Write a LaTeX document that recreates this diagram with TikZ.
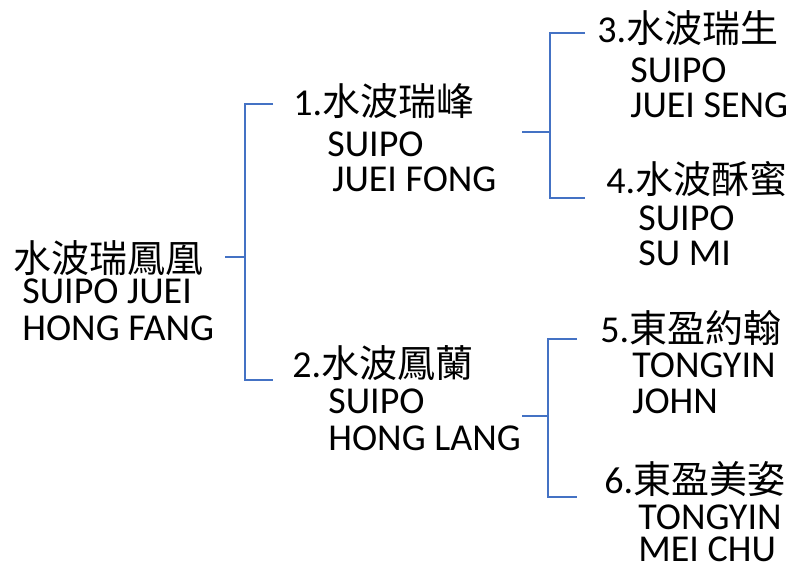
\documentclass[tikz,border=0pt]{standalone}
\usepackage{fontspec}
\setmainfont{Carlito}
\newfontfamily\cjk{Noto Sans CJK TC}
\definecolor{linkblue}{RGB}{68,114,196}
\begin{document}
\begin{tikzpicture}[x=0.5pt,y=-0.5pt,
  link/.style={draw=linkblue,line width=0.75pt},
  txt/.style={anchor=base west,inner sep=0pt,font=\fontsize{19}{22}\selectfont}]
\useasboundingbox (0,0) rectangle (794,563);

% root
\node[txt] (root) at (13,272) {\cjk 水波瑞鳳凰};
\node[txt] (root2) at (22,303) {SUIPO JUEI};
\node[txt] (root3) at (22,340) {HONG FANG};

% first generation
\node[txt] (p1) at (293,115) {1.{\cjk 水波瑞峰}};
\node[txt] (p1b) at (327,156) {SUIPO};
\node[txt] (p1c) at (332,191) {JUEI FONG};

\node[txt] (p2) at (292,377) {2.{\cjk 水波鳳蘭}};
\node[txt] (p2b) at (328,413) {SUIPO};
\node[txt] (p2c) at (328,450) {HONG LANG};

% second generation
\node[txt] (p3) at (597,42) {3.{\cjk 水波瑞生}};
\node[txt] (p3b) at (630,82) {SUIPO};
\node[txt] (p3c) at (630,117) {JUEI SENG};

\node[txt] (p4) at (606,193) {4.{\cjk 水波酥蜜}};
\node[txt] (p4b) at (638,230) {SUIPO};
\node[txt] (p4c) at (638,265) {SU MI};

\node[txt] (p5) at (600,342) {5.{\cjk 東盈約翰}};
\node[txt] (p5b) at (632,377) {TONGYIN};
\node[txt] (p5c) at (632,413) {JOHN};

\node[txt] (p6) at (604,493) {6.{\cjk 東盈美姿}};
\node[txt] (p6b) at (638,529) {TONGYIN};
\node[txt] (p6c) at (638,561) {MEI CHU};

% brackets
\coordinate (s0) at (225,257);
\coordinate (fork0) at (245,257);
\coordinate (t0) at (273,104);
\coordinate (b0) at (273,380);
\draw[link] (s0) -- (fork0);
\draw[link] (t0) -| (fork0) |- (b0);

\coordinate (s1) at (522,132);
\coordinate (fork1) at (550,132);
\coordinate (t1) at (585,33);
\coordinate (b1) at (585,198);
\draw[link] (s1) -- (fork1);
\draw[link] (t1) -| (fork1) |- (b1);

\coordinate (s2) at (522,416);
\coordinate (fork2) at (548,416);
\coordinate (t2) at (577,339);
\coordinate (b2) at (577,497);
\draw[link] (s2) -- (fork2);
\draw[link] (t2) -| (fork2) |- (b2);
\end{tikzpicture}
\end{document}
